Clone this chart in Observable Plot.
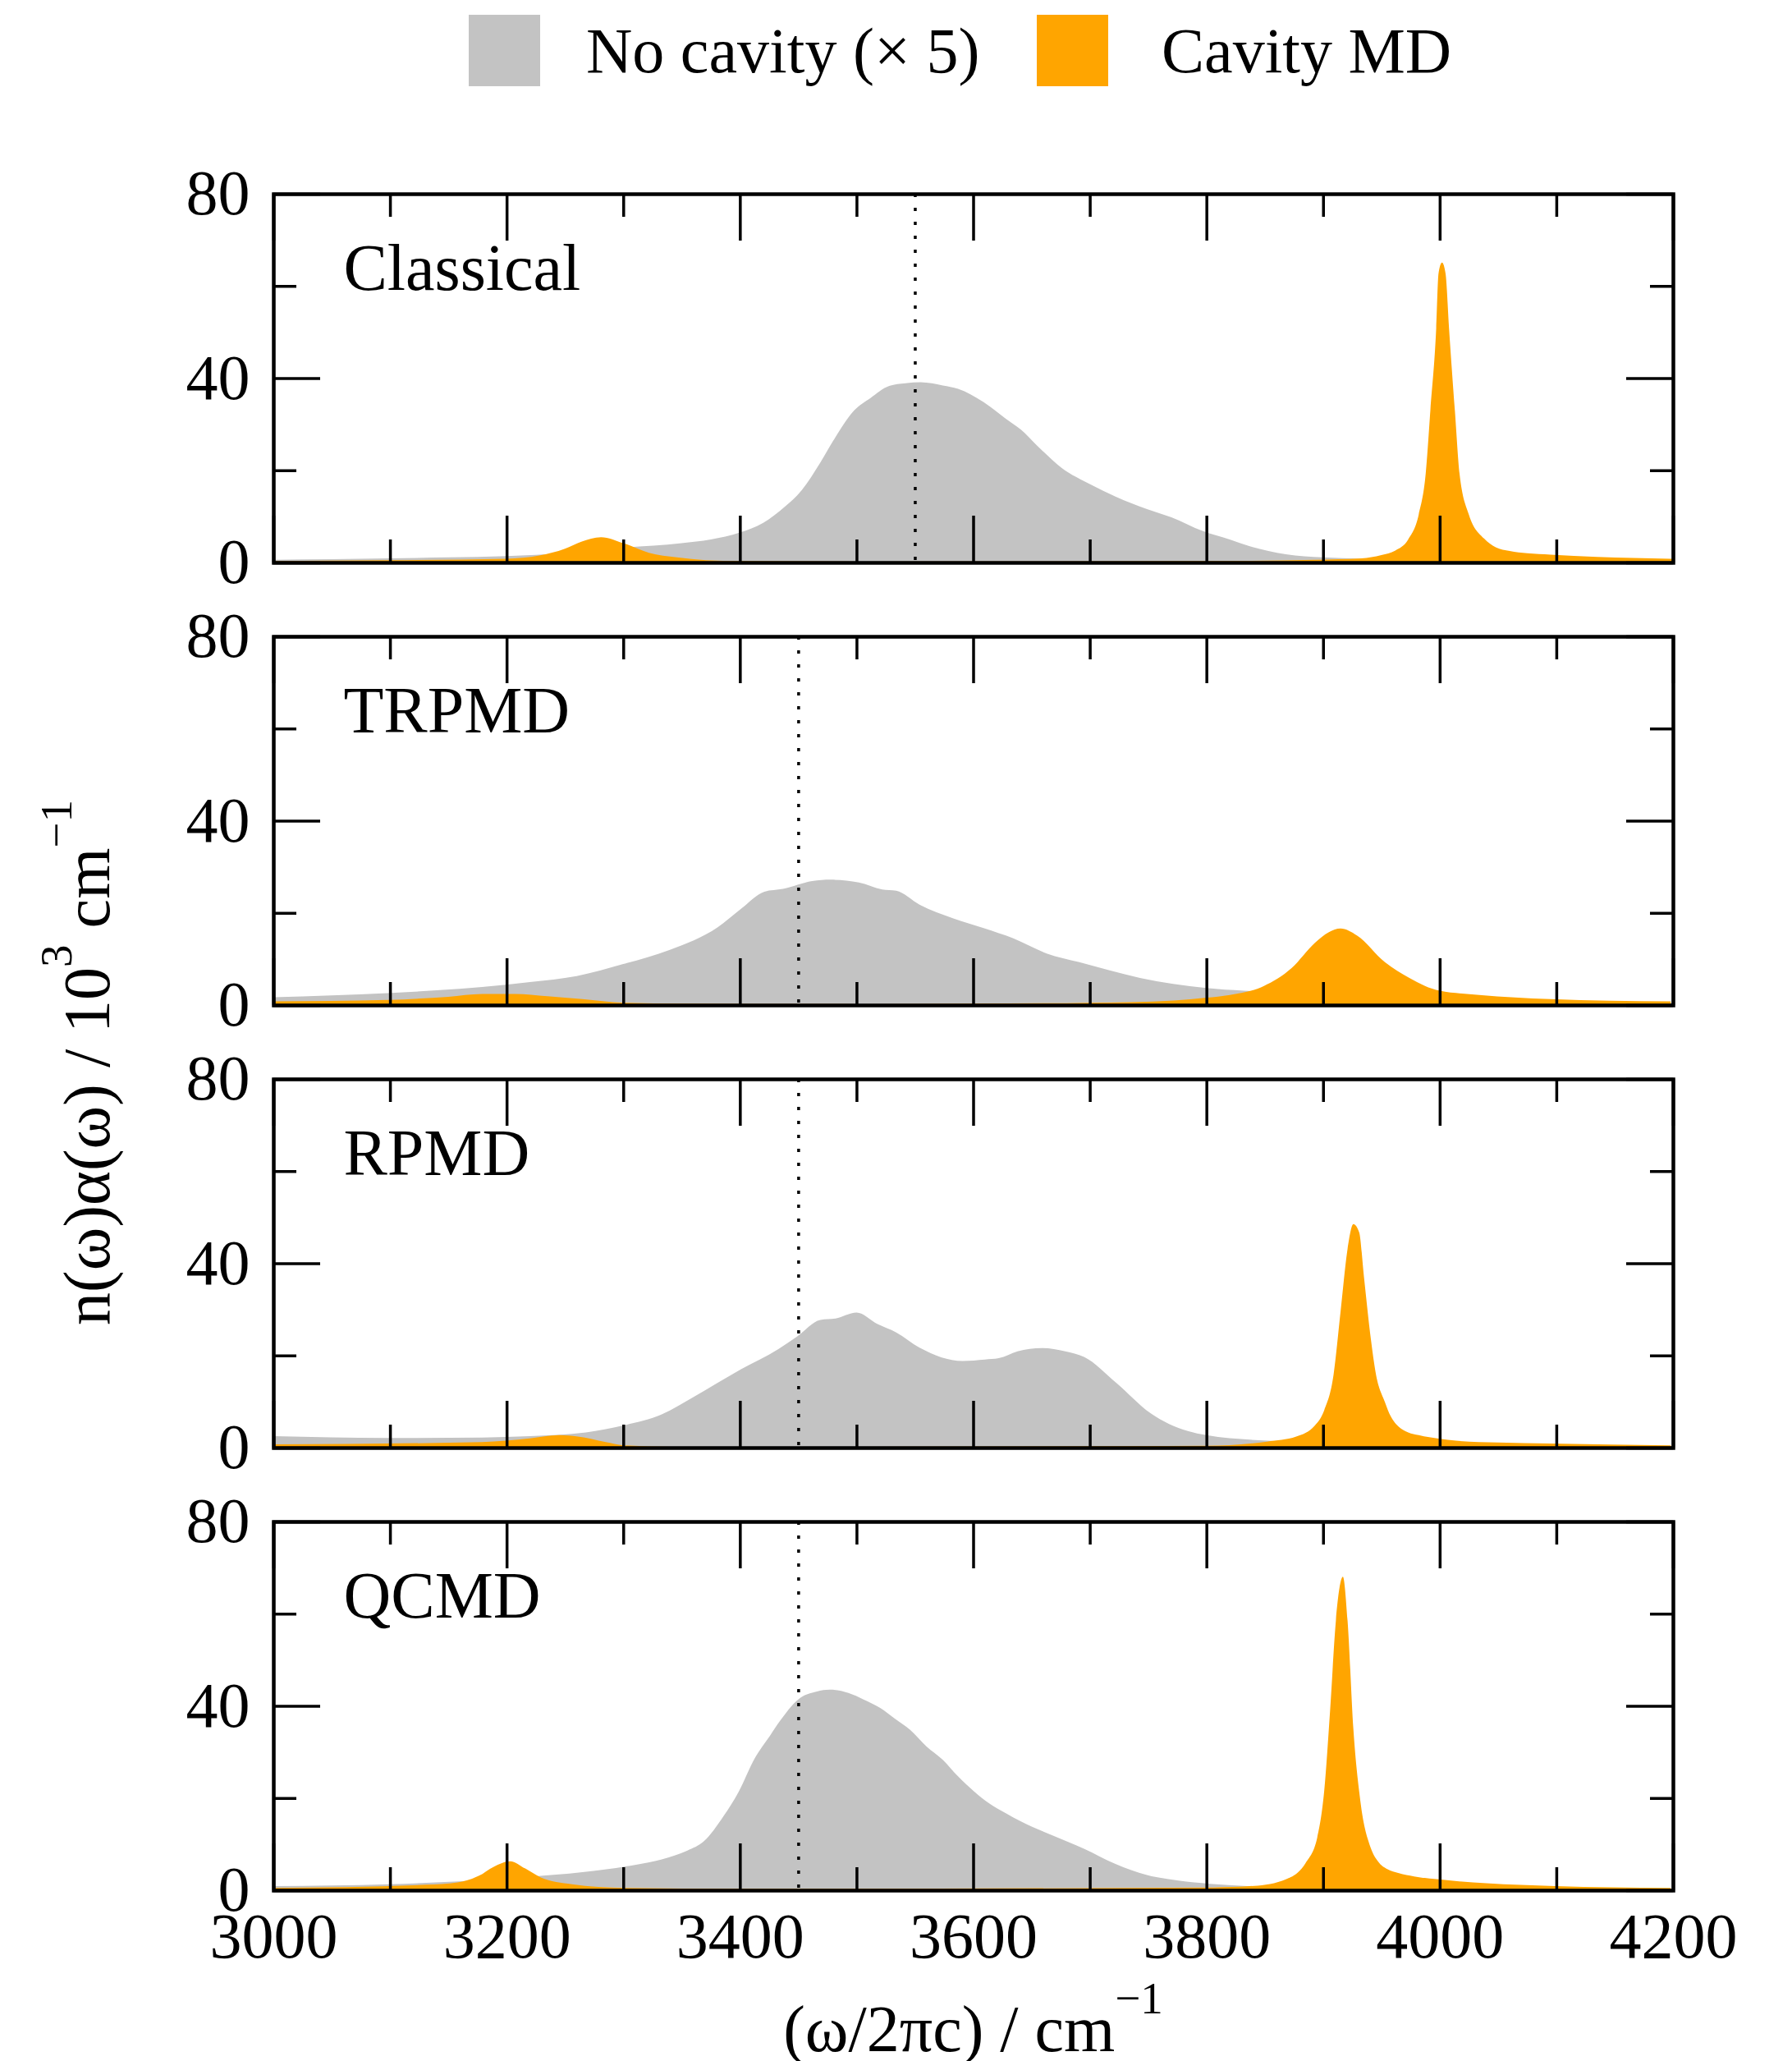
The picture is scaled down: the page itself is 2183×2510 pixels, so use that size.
<!DOCTYPE html>
<html>
<head>
<meta charset="utf-8">
<script src="https://cdn.jsdelivr.net/npm/d3@7"></script>
<script src="https://cdn.jsdelivr.net/npm/@observablehq/plot@0.6"></script>
<style>
  body { margin: 0; background: #fff; }
  #legend { position: relative; width: 2183px; height: 140px; font-family: "Liberation Serif", serif; font-size: 78px; color: #000; }
  .sw { position: absolute; top: 18px; width: 87px; height: 87px; }
  .lt { position: absolute; top: 23px; line-height: 78px; white-space: nowrap; }
  #chart svg { display: block; overflow: visible; }
</style>
</head>
<body>
<div id="legend">
  <div class="sw" style="left:571px;background:#c3c3c3"></div>
  <div class="lt" style="left:714px">No cavity (× 5)</div>
  <div class="sw" style="left:1263px;background:#ffa500"></div>
  <div class="lt" style="left:1415px">Cavity MD</div>
</div>
<div id="chart"></div>
<script>
// ---------- data ----------
const methods = ["Classical", "TRPMD", "RPMD", "QCMD"];
const refFreq = [3550, 3450, 3450, 3450];
const xMajorTicks = [3000, 3200, 3400, 3600, 3800, 4000, 4200];
const xMinorTicks = [3100, 3300, 3500, 3700, 3900, 4100];
const yMajorTicks = [0, 40, 80];
const yMinorTicks = [20, 60];

// Classical
const clsNoCavX = [3000,3050,3100,3150,3200,3250,3300,3350,3375,3400,3420,3439,3453,3469,3480,3498,3512,3528,3542,3555,3574,3587,3609,3628,3641,3655,3676,3701,3722,3749,3770,3797,3821,3836,3868,3900,3933,3970,4000,4100,4200];
const clsNoCavY = [0.6,0.7,0.9,1.1,1.4,2.0,3.2,4.2,5.0,6.5,8.6,12.2,15.7,21.7,26.4,33.0,35.7,38.3,38.9,39.1,38.4,37.7,34.8,31.2,28.8,25.3,20.5,16.9,14.3,11.6,9.8,6.8,4.9,3.6,1.8,1.1,0.8,0.6,0.5,0.4,0.3];
const clsCavX = [3000,3100,3200,3228,3250,3264,3281,3300,3322,3346,3371,3400,3500,3800,3893,3933,3950,3962,3973,3982,3988,3992,3997,3999,4002,4005,4008,4013,4017,4025,4038,4048,4060,4075,4095,4135,4200];
const clsCavY = [0.3,0.5,0.8,1.5,3.0,4.5,5.5,4.2,2.1,1.1,0.5,0.3,0.2,0.3,0.6,0.9,1.6,2.6,5.0,10.4,19.3,33.0,50.8,62.7,65.1,62.7,50.8,33.0,19.3,10.4,5.2,3.3,2.5,2.0,1.7,1.2,0.8];

// TRPMD
const trpNoCavX = [3000,3050,3098,3140,3179,3220,3260,3300,3340,3381,3401,3421,3437,3462,3478,3502,3522,3534,3554,3583,3610,3634,3663,3691,3743,3800,3832,3870,3920,3970,4050,4200];
const trpNoCavY = [1.7,2.1,2.6,3.2,3.9,5.0,6.3,8.9,12.0,16.9,20.9,24.6,25.2,26.9,27.2,26.6,25.1,24.8,21.8,18.8,16.6,14.5,11.2,9.3,5.9,3.7,3.1,2.5,1.8,1.3,0.8,0.5];
const trpCavX = [3000,3098,3150,3179,3207,3235,3265,3300,3350,3500,3600,3700,3772,3800,3820,3849,3873,3893,3905,3915,3929,3953,3974,4000,4034,4095,4198];
const trpCavY = [0.8,1.1,1.8,2.4,2.4,1.9,1.3,0.5,0.3,0.2,0.3,0.5,1.0,1.6,2.2,4.1,8.0,13.5,15.8,16.6,15.1,9.3,5.9,3.1,2.2,1.3,0.8];

// RPMD
const rpNoCavX = [3000,3098,3179,3220,3268,3300,3333,3361,3401,3433,3449,3469,3482,3500,3518,3534,3554,3591,3610,3622,3638,3659,3679,3695,3723,3752,3784,3800,3852,3900,3950,4050,4200];
const rpNoCavY = [2.5,2.1,2.2,2.5,3.3,4.8,7.2,11.1,17.0,21.4,24.1,27.7,28.0,29.3,26.8,25.0,21.7,18.8,19.1,19.4,20.9,21.6,20.9,19.7,14.0,7.5,3.6,2.7,1.5,1.0,0.7,0.5,0.4];
const rpCavX = [3000,3179,3220,3245,3261,3285,3300,3341,3500,3800,3852,3877,3893,3901,3909,3915,3921,3926,3931,3935,3941,3945,3953,3958,3965,3973,3982,4000,4014,4050,4095,4198];
const rpCavY = [0.7,1.2,2.0,2.7,2.4,1.2,0.5,0.2,0.2,0.4,1.3,2.4,4.8,8.1,15.8,29.5,43.1,48.5,46.7,37.2,23.5,16.4,9.9,6.8,4.5,3.3,2.7,1.9,1.5,1.1,0.9,0.5];

// QCMD
const qcNoCavX = [3000,3099,3220,3265,3310,3333,3355,3369,3386,3399,3412,3426,3434,3450,3466,3477,3493,3506,3520,3533,3546,3560,3574,3587,3601,3614,3628,3641,3668,3695,3722,3749,3776,3803,3835,3900,4000,4200];
const qcNoCavY = [0.9,1.3,2.9,3.9,5.5,6.7,8.6,10.6,16.1,21.4,28.3,33.6,36.6,41.4,43.1,43.5,42.8,41.4,39.6,37.2,34.8,31.2,28.3,24.7,21.4,18.8,16.7,14.9,11.9,9.0,5.7,3.3,2.1,1.4,0.9,0.5,0.4,0.3];
const qcCavX = [3000,3131,3158,3176,3189,3203,3216,3229,3256,3301,3400,3806,3844,3872,3885,3895,3901,3906,3911,3917,3921,3926,3932,3941,3947,3955,3965,3978,4001,4040,4099,4198];
const qcCavY = [0.5,1.2,1.7,3.1,5.1,6.3,4.7,2.8,1.3,0.5,0.3,0.6,1.0,2.8,5.9,11.4,21.6,38.9,58.5,68.0,58.5,34.9,19.3,9.1,6.3,4.6,3.7,3.0,2.3,1.5,0.9,0.5];

// ---------- tables ----------
const series = [
  {method: "Classical", kind: "noCav", xs: clsNoCavX, ys: clsNoCavY},
  {method: "Classical", kind: "cav", xs: clsCavX, ys: clsCavY},
  {method: "TRPMD", kind: "noCav", xs: trpNoCavX, ys: trpNoCavY},
  {method: "TRPMD", kind: "cav", xs: trpCavX, ys: trpCavY},
  {method: "RPMD", kind: "noCav", xs: rpNoCavX, ys: rpNoCavY},
  {method: "RPMD", kind: "cav", xs: rpCavX, ys: rpCavY},
  {method: "QCMD", kind: "noCav", xs: qcNoCavX, ys: qcNoCavY},
  {method: "QCMD", kind: "cav", xs: qcCavX, ys: qcCavY}
];
const rows = series.flatMap(s => s.xs.map((x, i) => ({method: s.method, kind: s.kind, x, y: s.ys[i]})));
const refRows = methods.map((m, i) => ({method: m, x: refFreq[i]}));

// ---------- layout ----------
const W = 2183, H = 2370;
const mL = 333, mR = 145, mT = 96, mB = 208;
const plotW = W - mL - mR;
const panelH = 449;
const majLen = 57, minLen = 28;
const font = "'Liberation Serif', 'Times New Roman', serif";
const tickW = 3.5;

const chart = Plot.plot({
  width: W, height: H,
  marginLeft: mL, marginRight: mR, marginTop: mT, marginBottom: mB,
  style: {fontFamily: font, background: "white", color: "black", overflow: "visible"},
  x: {domain: [3000, 4200]},
  y: {domain: [0, 80]},
  fy: {domain: methods, paddingInner: 0.167, paddingOuter: 0, axis: null},
  marks: [
    Plot.areaY(rows.filter(d => d.kind === "noCav"), {x: "x", y: "y", fy: "method", fill: "#c3c3c3", curve: "monotone-x"}),
    Plot.areaY(rows.filter(d => d.kind === "cav"), {x: "x", y: "y", fy: "method", fill: "#ffa500", curve: "monotone-x"}),
    Plot.ruleX(refRows, {x: "x", fy: "method", stroke: "black", strokeWidth: 3.5, strokeDasharray: "4,13"}),
    // inward ticks, bottom & top
    Plot.tickX(xMajorTicks, {x: d => d, insetTop: panelH - majLen, stroke: "black", strokeWidth: tickW}),
    Plot.tickX(xMajorTicks, {x: d => d, insetBottom: panelH - majLen, stroke: "black", strokeWidth: tickW}),
    Plot.tickX(xMinorTicks, {x: d => d, insetTop: panelH - minLen, stroke: "black", strokeWidth: tickW}),
    Plot.tickX(xMinorTicks, {x: d => d, insetBottom: panelH - minLen, stroke: "black", strokeWidth: tickW}),
    // inward ticks, left & right
    Plot.tickY(yMajorTicks, {y: d => d, insetRight: plotW - majLen, stroke: "black", strokeWidth: tickW}),
    Plot.tickY(yMajorTicks, {y: d => d, insetLeft: plotW - majLen, stroke: "black", strokeWidth: tickW}),
    Plot.tickY(yMinorTicks, {y: d => d, insetRight: plotW - minLen, stroke: "black", strokeWidth: tickW}),
    Plot.tickY(yMinorTicks, {y: d => d, insetLeft: plotW - minLen, stroke: "black", strokeWidth: tickW}),
    Plot.frame({stroke: "black", strokeWidth: 4.5}),
    Plot.text(methods, {fy: d => d, text: d => d, frameAnchor: "top-left", dx: 85, dy: 116,
      textAnchor: "start", lineAnchor: "bottom", fontSize: 80, fill: "black"}),
    Plot.axisX({ticks: xMajorTicks, tickSize: 0, tickPadding: 26, fontSize: 78, tickFormat: d => String(d), label: null}),
    Plot.axisY({ticks: yMajorTicks, tickSize: 0, tickPadding: 29, fontSize: 78, label: null})
  ]
});

document.getElementById("chart").appendChild(chart);

// axis titles with superscripts
const svg = d3.select(chart);
const xl = svg.append("text")
  .attr("x", mL + plotW / 2).attr("y", 2358)
  .attr("text-anchor", "middle").attr("font-size", 80)
  .attr("font-family", font).attr("fill", "black").style("white-space", "pre");
xl.append("tspan").text("(ω/2πc) / cm");
xl.append("tspan").attr("dy", -46).attr("font-size", 55).text("−1");

const yl = svg.append("text")
  .attr("transform", "translate(133,1154) rotate(-90)")
  .attr("text-anchor", "middle").attr("font-size", 80)
  .attr("font-family", font).attr("fill", "black").style("white-space", "pre");
yl.append("tspan").text("n(ω)α(ω) / 10");
yl.append("tspan").attr("dy", -46).attr("font-size", 55).text("3");
yl.append("tspan").attr("dy", 46).text(" cm");
yl.append("tspan").attr("dy", -46).attr("font-size", 55).text("−1");
</script>
</body>
</html>
